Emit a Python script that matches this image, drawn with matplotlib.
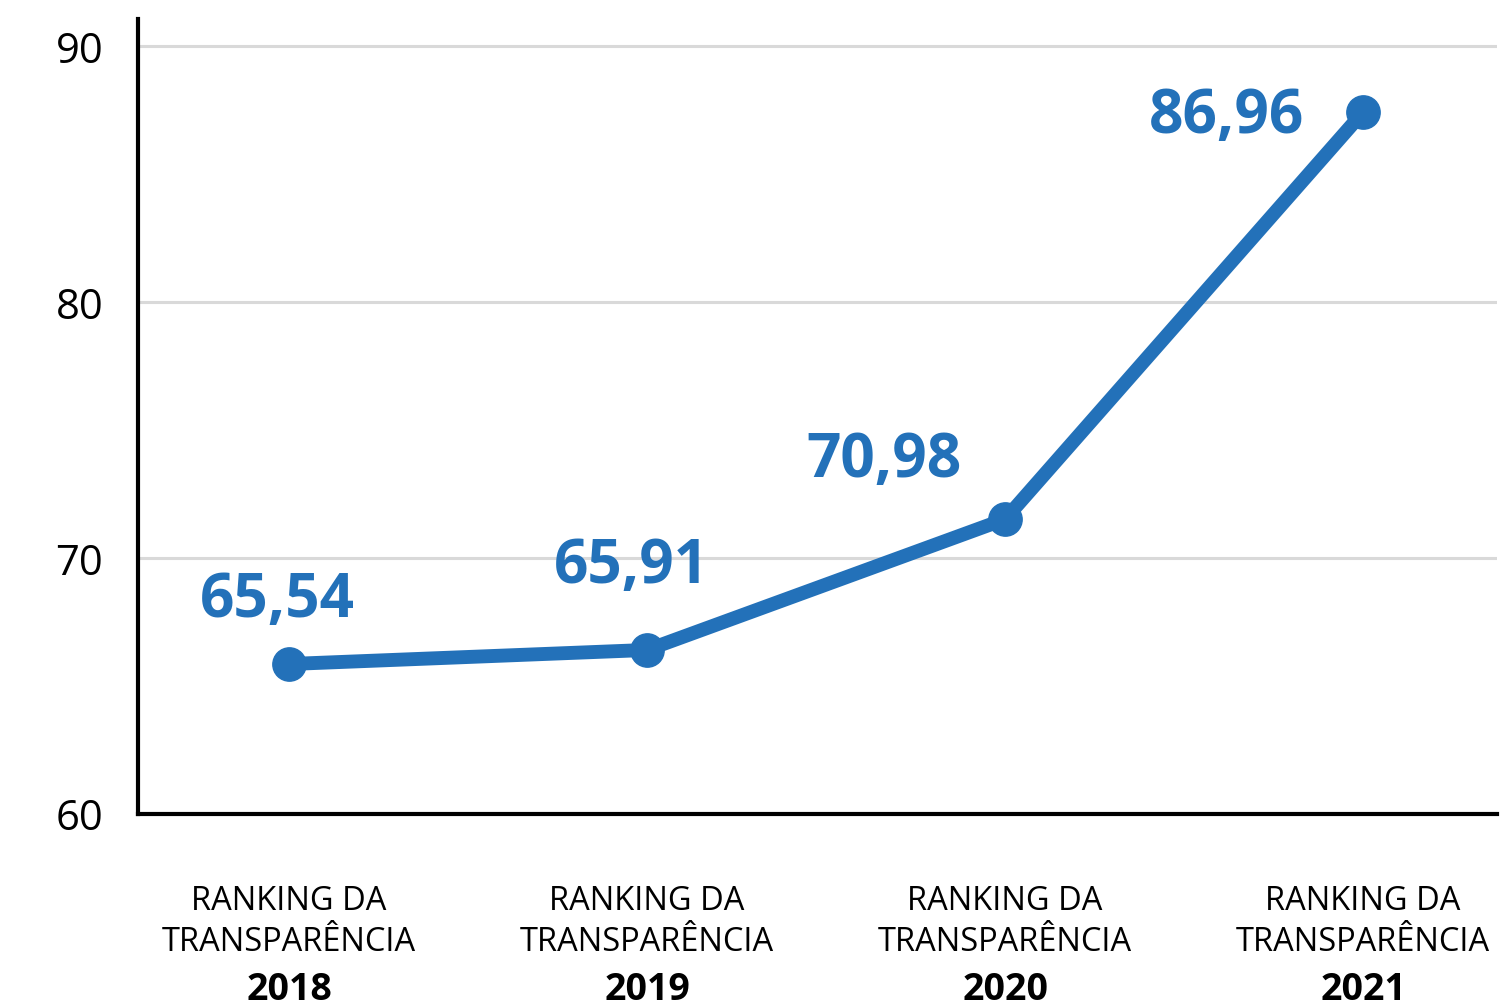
import matplotlib
matplotlib.use("Agg")
import matplotlib.pyplot as plt

plt.rcParams["font.family"] = ["Open Sans", "DejaVu Sans"]

# values as drawn on the chart, and the labels printed beside them
years = ["2018", "2019", "2020", "2021"]
scores = [65.84, 66.39, 71.50, 87.40]
score_labels = ["65,54", "65,91", "70,98", "86,96"]
cat_line1 = "RANKING DA"
cat_line2 = "TRANSPARÊNCIA"
yticks = [60, 70, 80, 90]

BLUE = "#2371b9"

fig = plt.figure(figsize=(15.05, 10.04), dpi=100)
ax = fig.add_axes([138 / 1505, 1 - 814.5 / 1004, (1497 - 138) / 1505, (814.5 - 20) / 1004])

x = list(range(len(years)))
ax.plot(x, scores, color=BLUE, lw=10, marker="o", ms=24,
        solid_capstyle="round", zorder=3)

ax.set_xlim(-0.422, 3.374)
ax.set_ylim(60, 91.04)
ax.set_yticks(yticks)
ax.set_yticklabels([str(v) for v in yticks], fontsize=30)
ax.tick_params(axis="y", length=0, pad=25)
ax.set_xticks([])
ax.grid(axis="y", color="#d9d9d9", lw=2.2)
ax.set_axisbelow(True)
for s in ("top", "right"):
    ax.spines[s].set_visible(False)
for s in ("left", "bottom"):
    ax.spines[s].set_linewidth(3)
    ax.spines[s].set_color("black")

# value labels, offsets in pixels relative to each point
offsets = [(-12, 48), (-16, 68), (-121, 43), (-137, -20)]
for xi, yi, lab, (dx, dy) in zip(x, scores, score_labels, offsets):
    ax.annotate(lab, xy=(xi, yi), xytext=(dx, dy), textcoords="offset pixels",
                ha="center", va="baseline", fontsize=43.4, fontweight="bold",
                color=BLUE)

# category labels under the axis
for xi, yr in zip(x, years):
    kw = dict(xy=(xi, 0), xycoords=("data", "axes fraction"),
              textcoords="offset pixels", ha="center", va="baseline",
              color="black", annotation_clip=False)
    ax.annotate(cat_line1, xytext=(0, -95.5), fontsize=23.5, **kw)
    ax.annotate(cat_line2, xytext=(0, -136.5), fontsize=23.5, **kw)
    ax.annotate(yr, xytext=(0, -185.5), fontsize=27, fontweight="bold", **kw)

fig.savefig("out.png", dpi=100)
